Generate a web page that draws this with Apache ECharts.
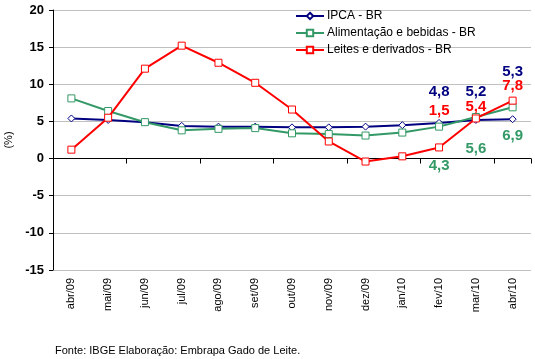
<!DOCTYPE html>
<html>
<head>
<meta charset="utf-8">
<script src="https://cdn.jsdelivr.net/npm/echarts@6/dist/echarts.min.js"></script>
<style>html,body{margin:0;padding:0;background:#fff}#c{width:535px;height:359px}</style>
</head>
<body>
<div id="c"></div>
<script>
const categories = ['abr/09','mai/09','jun/09','jul/09','ago/09','set/09','out/09','nov/09','dez/09','jan/10','fev/10','mar/10','abr/10'];
const ipca = [5.4, 5.2, 4.9, 4.4, 4.3, 4.3, 4.2, 4.2, 4.3, 4.5, 4.8, 5.2, 5.3];
const alimentacao = [8.1, 6.4, 4.9, 3.8, 4.0, 4.1, 3.4, 3.3, 3.1, 3.5, 4.3, 5.6, 6.9];
const leites = [1.2, 5.5, 12.1, 15.2, 12.9, 10.2, 6.6, 2.3, -0.4, 0.3, 1.5, 5.4, 7.8];
const yTicks = [-15, -10, -5, 0, 5, 10, 15, 20];

const NAVY = '#000080', GREEN = '#339966', RED = '#FF0000';
const FONT = 'Liberation Sans, Arial, sans-serif';

// label offsets (styling) for the last three points of each series
const labelOffsets = {
  ipca: {10: -31, 11: -28, 12: -47},
  alim: {10: 39, 11: 32, 12: 29},
  leites: {10: -37, 11: -12, 12: -15}
};
function build(values, offs, color) {
  return values.map((v, i) => {
    if (offs[i] === undefined) return v;
    return {
      value: v,
      label: {
        show: true, position: 'inside', offset: [0, offs[i]],
        color: color, fontFamily: FONT, fontWeight: 'bold', fontSize: 15,
        formatter: p => String(p.value).replace('.', ',')
      }
    };
  });
}

const chart = echarts.init(document.getElementById('c'), null, {renderer: 'canvas'});
chart.setOption({
  backgroundColor: '#fff',
  animation: false,
  grid: {left: 53, right: 4, top: 10, bottom: 89, containLabel: false, outerBoundsMode: 'none'},
  legend: {
    orient: 'vertical', left: 295, top: 10, padding: 0, itemWidth: 28, itemHeight: 8, itemGap: 5,
    textStyle: {fontFamily: FONT, fontSize: 12, color: '#000', padding: [0, 0, 0, -2]},
    data: ['IPCA - BR', 'Alimentação e bebidas - BR', 'Leites e derivados - BR']
  },
  xAxis: [{
    type: 'category', data: categories, boundaryGap: true,
    axisLine: {onZero: true, lineStyle: {color: '#000', width: 1}},
    axisTick: {show: true, length: 5, lineStyle: {color: '#000'}},
    axisLabel: {show: false}
  }, {
    type: 'category', data: categories, boundaryGap: true, position: 'bottom',
    axisLine: {show: false, onZero: false}, axisTick: {show: false},
    axisLabel: {rotate: 90, margin: 8, color: '#000', fontFamily: FONT, fontSize: 11}
  }],
  yAxis: {
    type: 'value', min: -15, max: 20, interval: 5,
    name: '(%)', nameLocation: 'middle', nameRotate: 90, nameGap: 38,
    nameTextStyle: {fontFamily: FONT, fontSize: 11, color: '#000'},
    axisLine: {show: true, lineStyle: {color: '#000'}},
    axisTick: {show: true, length: 4, lineStyle: {color: '#000'}},
    axisLabel: {margin: 9, color: '#000', fontFamily: FONT, fontWeight: 'bold', fontSize: 13,
      formatter: v => yTicks.includes(v) ? String(v) : ''},
    splitLine: {show: true, lineStyle: {color: '#c0c0c0', width: 1}}
  },
  series: [{
    name: 'IPCA - BR', type: 'line', xAxisIndex: 0, data: build(ipca, labelOffsets.ipca, NAVY),
    symbol: 'diamond', symbolSize: 7, showAllSymbol: true,
    lineStyle: {color: NAVY, width: 2},
    itemStyle: {color: '#fff', borderColor: NAVY, borderWidth: 1},
    z: 3
  }, {
    name: 'Alimentação e bebidas - BR', type: 'line', xAxisIndex: 0, data: build(alimentacao, labelOffsets.alim, GREEN),
    symbol: 'rect', symbolSize: 7, showAllSymbol: true,
    lineStyle: {color: GREEN, width: 2},
    itemStyle: {color: '#fff', borderColor: GREEN, borderWidth: 1},
    z: 4
  }, {
    name: 'Leites e derivados - BR', type: 'line', xAxisIndex: 0, data: build(leites, labelOffsets.leites, RED),
    symbol: 'rect', symbolSize: 7, showAllSymbol: true,
    lineStyle: {color: RED, width: 2},
    itemStyle: {color: '#fff', borderColor: RED, borderWidth: 1},
    z: 5
  }],
  graphic: [{
    type: 'text', left: 55, top: 345,
    style: {text: 'Fonte: IBGE Elaboração: Embrapa Gado de Leite.', fontFamily: FONT, fontSize: 11, fill: '#000'}
  }]
});
</script>
</body>
</html>
